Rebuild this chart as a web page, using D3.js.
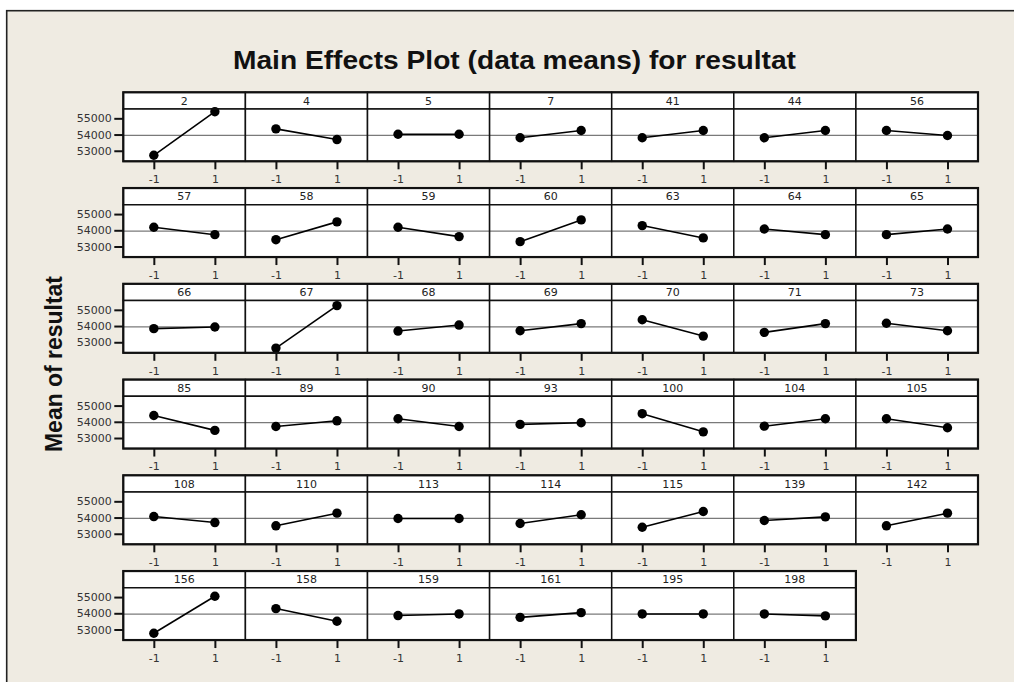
<!DOCTYPE html>
<html>
<head>
<meta charset="utf-8">
<script src="https://cdn.jsdelivr.net/npm/d3@7"></script>
<style>
  body { margin: 0; background: #fff; }
  .chart { width: 1014px; height: 682px; }
</style>
</head>
<body>
<div class="chart"></div>
<script>
// factor names, one panel each (read left to right, top to bottom)
const factors = ['2', '4', '5', '7', '41', '44', '56',
  '57', '58', '59', '60', '63', '64', '65',
  '66', '67', '68', '69', '70', '71', '73',
  '85', '89', '90', '93', '100', '104', '105',
  '108', '110', '113', '114', '115', '139', '142',
  '156', '158', '159', '161', '195', '198']
const levels = [-1, 1]
// mean of resultat at level -1
const meanLow = [52720, 54350, 54020, 53800, 53800, 53800, 54250,
  54190, 53420, 54190, 53300, 54290, 54080, 53730,
  53840, 52640, 53690, 53710, 54390, 53610, 54170,
  54390, 53710, 54190, 53840, 54500, 53730, 54190,
  54060, 53490, 53940, 53630, 53400, 53820, 53490,
  52770, 54290, 53860, 53750, 53960, 53960]
// mean of resultat at level 1
const meanHigh = [55410, 53690, 54020, 54250, 54250, 54250, 53940,
  53730, 54520, 53610, 54640, 53530, 53730, 54080,
  53940, 55260, 54060, 54150, 53380, 54150, 53710,
  53470, 54060, 53710, 53940, 53380, 54190, 53630,
  53690, 54270, 53940, 54170, 54370, 54040, 54270,
  55050, 53510, 53960, 54040, 53960, 53840]
const grandMean = 53950
const yTicks = [53000, 54000, 55000]

const el = d3.select('.chart')

init()

function init () {
  const theme = {
    width: 1014,
    height: 682,
    left: 123.3,
    top: 92.3,
    panelW: 122.1,
    headH: 16.7,
    plotH: 52.3,
    rowStep: 95.75,
    cols: 7,
    bg: '#efebe2'
  }
  const svg = el.append('svg')
    .attr('width', theme.width)
    .attr('height', theme.height)

  // beige frame, its right and bottom edges run off the picture
  svg.append('rect')
    .attr('x', 6.7).attr('y', 10.7)
    .attr('width', theme.width + 20).attr('height', theme.height + 20)
    .attr('fill', theme.bg)
    .attr('stroke', '#222').attr('stroke-width', 1.6)

  svg.append('text')
    .attr('x', 233).attr('y', 69)
    .attr('textLength', 563).attr('lengthAdjust', 'spacingAndGlyphs')
    .attr('font-family', 'Liberation Sans, Arial, sans-serif')
    .attr('font-weight', 'bold').attr('font-size', 25)
    .attr('fill', '#111')
    .text('Main Effects Plot (data means) for resultat')

  svg.append('text')
    .attr('transform', 'translate(62,364) rotate(-90)')
    .attr('text-anchor', 'middle')
    .attr('textLength', 176).attr('lengthAdjust', 'spacingAndGlyphs')
    .attr('font-family', 'Liberation Sans, Arial, sans-serif')
    .attr('font-weight', 'bold').attr('font-size', 23)
    .attr('fill', '#111')
    .text('Mean of resultat')

  drawPanels(theme, svg)
}

function drawPanels (theme, svg) {
  const x = d3.scaleLinear().domain([-2, 2]).range([0, theme.panelW])
  const y = d3.scaleLinear().domain([52350, 55575]).range([theme.plotH, 0])
  const font = 'DejaVu Sans, Verdana, sans-serif'

  const data = factors.map((f, i) => ({
    name: f,
    row: Math.floor(i / theme.cols),
    col: i % theme.cols,
    values: [meanLow[i], meanHigh[i]]
  }))

  const panel = svg.selectAll('.panel').data(data).enter()
    .append('g')
    .attr('class', 'panel')
    .attr('transform', d => `translate(${theme.left + d.col * theme.panelW},${theme.top + d.row * theme.rowStep})`)

  // header strip
  panel.append('rect')
    .attr('width', theme.panelW).attr('height', theme.headH)
    .attr('fill', '#fff').attr('stroke', '#111').attr('stroke-width', 1.5)
  panel.append('text')
    .attr('x', theme.panelW / 2).attr('y', theme.headH / 2 + 4)
    .attr('text-anchor', 'middle')
    .attr('font-family', font).attr('font-size', 11)
    .attr('fill', '#222')
    .text(d => d.name)

  const plot = panel.append('g')
    .attr('transform', `translate(0,${theme.headH})`)
  plot.append('rect')
    .attr('width', theme.panelW).attr('height', theme.plotH)
    .attr('fill', '#fff')

  // grand mean reference line
  plot.append('line')
    .attr('x1', 0).attr('x2', theme.panelW)
    .attr('y1', y(grandMean)).attr('y2', y(grandMean))
    .attr('stroke', '#7a7a7a').attr('stroke-width', 1.2)

  plot.append('path')
    .attr('d', d => d3.line().x((v, k) => x(levels[k])).y(v => y(v))(d.values))
    .attr('fill', 'none').attr('stroke', '#000').attr('stroke-width', 1.6)

  plot.selectAll('circle')
    .data(d => d.values.map((v, k) => ({ lvl: levels[k], v: v })))
    .enter().append('circle')
    .attr('cx', d => x(d.lvl)).attr('cy', d => y(d.v))
    .attr('r', 4.7).attr('fill', '#000')

  plot.append('rect')
    .attr('width', theme.panelW).attr('height', theme.plotH)
    .attr('fill', 'none').attr('stroke', '#111').attr('stroke-width', 1.5)

  // x axis for every panel
  plot.append('g')
    .attr('transform', `translate(0,${theme.plotH})`)
    .call(d3.axisBottom(x).tickValues(levels).tickSize(8).tickPadding(6).tickFormat(d => d === -1 ? '-1' : '1'))
    .call(styleAxis, font)

  // y axis only in the first column
  plot.filter(d => d.col === 0).append('g')
    .call(d3.axisLeft(y).tickValues(yTicks).tickSize(9).tickPadding(2.5).tickFormat(d3.format('d')))
    .call(styleAxis, font)

  // heavier outline around each row of panels
  const rows = d3.range(Math.ceil(factors.length / theme.cols))
  svg.selectAll('.row-box').data(rows).enter()
    .append('rect')
    .attr('class', 'row-box')
    .attr('x', theme.left)
    .attr('y', r => theme.top + r * theme.rowStep)
    .attr('width', r => Math.min(theme.cols, factors.length - r * theme.cols) * theme.panelW)
    .attr('height', theme.headH + theme.plotH)
    .attr('fill', 'none').attr('stroke', '#111').attr('stroke-width', 2.2)
}

function styleAxis (g, font) {
  g.select('.domain').remove()
  g.selectAll('.tick line').attr('stroke', '#111').attr('stroke-width', 2)
  g.selectAll('.tick text')
    .attr('font-family', font).attr('font-size', 11)
    .attr('fill', '#333')
}
</script>
</body>
</html>
